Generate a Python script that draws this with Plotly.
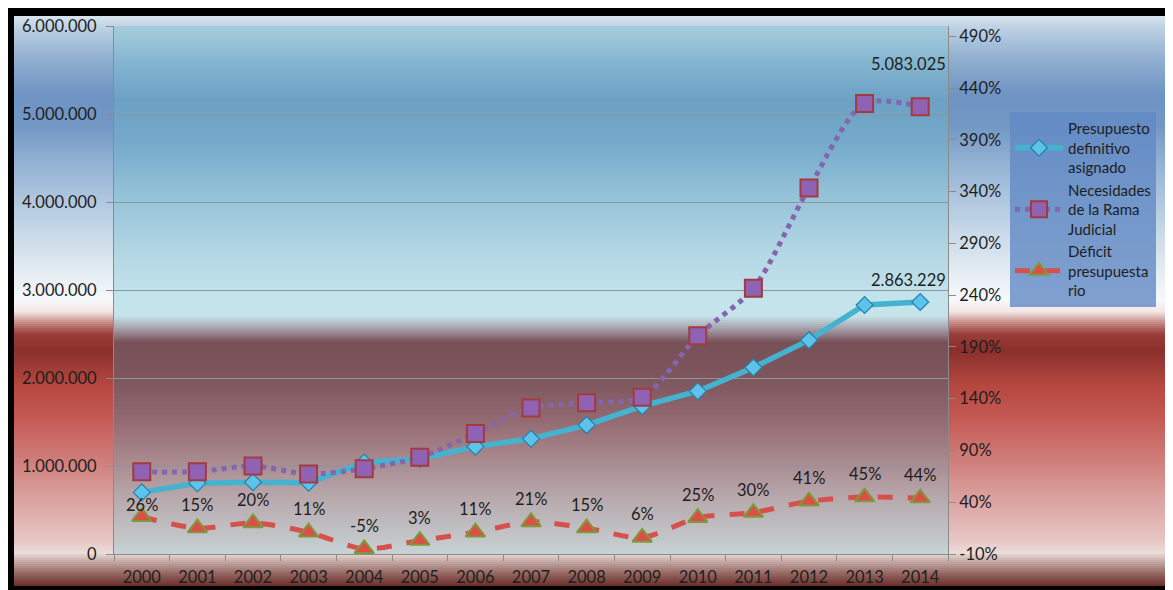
import numpy as np
import plotly.graph_objects as go

# ---------------- data ----------------
years = [str(y) for y in range(2000, 2015)]
presupuesto = [700000, 805000, 815000, 810000, 1040000, 1080000, 1220000, 1310000,
               1465000, 1680000, 1850000, 2120000, 2430000, 2830000, 2863229]
necesidades = [935000, 935000, 1000000, 910000, 970000, 1100000, 1370000, 1660000,
               1720000, 1780000, 2480000, 3020000, 4160000, 5120000, 5083025]
deficit = [0.26, 0.15, 0.20, 0.11, -0.05, 0.03, 0.11, 0.21, 0.15, 0.06,
           0.25, 0.30, 0.41, 0.45, 0.44]
deficit_labels = ["26%", "15%", "20%", "11%", "-5%", "3%", "11%", "21%", "15%", "6%",
                  "25%", "30%", "41%", "45%", "44%"]
right_tickvals = [-0.10, 0.40, 0.90, 1.40, 1.90, 2.40, 2.90, 3.40, 3.90, 4.40, 4.90]
right_ticktext = ["-10%", "40%", "90%", "140%", "190%", "240%", "290%", "340%",
                  "390%", "440%", "490%"]
names = ["Presupuesto<br>definitivo<br>asignado",
         "Necesidades<br>de la Rama<br>Judicial",
         "Déficit<br>presupuesta<br>rio"]

# ---------------- geometry (reference pixel coords) ----------------
OFF = 8                      # browser body margin
W, H = 1173, 590
PL, PR, PT, PB = 114, 948, 26, 554   # plot area in pixels
pw, ph = PR - PL, PB - PT


def px2x(px):
    return (px - PL) / pw


def px2y(py):
    return (PB - py) / ph


def hex2rgb(h):
    h = h.lstrip("#")
    return np.array([int(h[i:i + 2], 16) for i in (0, 2, 4)], dtype=float)


def grad_shapes(x0, x1, y0, y1, stops, step=2):
    ys = np.array([s[0] for s in stops], dtype=float)
    cols = np.array([hex2rgb(s[1]) for s in stops])
    shp = []
    y = y0
    while y < y1:
        yc = min(y + step, y1)
        mid = (y + yc) / 2
        c = [np.interp(mid, ys, cols[:, k]) for k in range(3)]
        shp.append(dict(type="rect", xref="paper", yref="paper", layer="below",
                        x0=px2x(x0), x1=px2x(x1), y0=px2y(y), y1=px2y(min(yc + 1, y1)),
                        line=dict(width=0),
                        fillcolor="rgb(%d,%d,%d)" % tuple(int(round(v)) for v in c)))
        y = yc
    return shp


outer_stops = [(16, "#D8E4EE"), (30, "#B9CEE2"), (60, "#8FAED0"), (95, "#6F94C3"),
               (125, "#7297C5"), (165, "#94B3D4"), (215, "#BBCFE3"), (262, "#DDE8F0"),
               (300, "#F7F9FB"), (312, "#F2E6E4"), (322, "#C98E8B"), (334, "#9A3E39"),
               (350, "#8A2F2B"), (385, "#B4473F"), (420, "#C65A55"), (460, "#CF7E7A"),
               (500, "#DBA3A1"), (540, "#E7C6C4"), (553, "#EADCD8"), (563, "#BFA29E"),
               (574, "#92635D"), (586, "#6A2E2A")]
inner_stops = [(26, "#A6CDDD"), (60, "#86B7D1"), (100, "#6CA1C5"), (140, "#74A9C9"),
               (200, "#97C4D9"), (260, "#B6D9E5"), (300, "#C4E4EC"), (316, "#C6E3EA"),
               (328, "#A8A4AF"), (342, "#785158"), (380, "#7D565E"), (420, "#946A71"),
               (460, "#A8898E"), (500, "#B8AAAE"), (540, "#C3C7CA"), (554, "#C8D3D5")]

shapes = []
shapes.append(dict(type="rect", xref="paper", yref="paper", layer="below",
                   x0=px2x(5), x1=px2x(1173), y0=px2y(7), y1=px2y(590),
                   line=dict(width=0), fillcolor="#000000"))
shapes += grad_shapes(14, 1170, 16, 586, outer_stops)
shapes.append(dict(type="rect", xref="paper", yref="paper", layer="below",
                   x0=px2x(1170), x1=px2x(1173), y0=px2y(16), y1=px2y(586),
                   line=dict(width=0), fillcolor="#9A9A9A"))
shapes += grad_shapes(PL, PR, PT, PB, inner_stops)

# ---------------- traces ----------------
txtfont = dict(family="Lato, sans-serif", size=16.5, color="#1E1E1E")
fig = go.Figure()
fig.add_trace(go.Scatter(
    x=years, y=presupuesto, name=names[0], mode="lines+markers",
    line=dict(color="#45B2D0", width=5.5),
    marker=dict(symbol="diamond", size=13, color="#5CC3EA",
                line=dict(color="#2A7FA6", width=1.2)),
))
fig.add_trace(go.Scatter(
    x=years, y=necesidades, name=names[1], mode="lines+markers",
    line=dict(color="#8466AE", width=5, dash="dot", shape="spline", smoothing=0.8),
    marker=dict(symbol="square", size=17, color="#9062B4",
                line=dict(color="#A33B3E", width=2)),
))
fig.add_trace(go.Scatter(
    x=years, y=deficit, name=names[2], mode="lines+markers", yaxis="y2",
    line=dict(color="#D6504C", width=5, dash="dash", shape="spline", smoothing=0.8),
    marker=dict(symbol="triangle-up", size=17, color="#DE4E48",
                line=dict(color="#7D9A3A", width=2)),
))

fmt = lambda v: f"{v:,}".replace(",", ".")
last = len(years) - 1
annotations = [
    dict(x=last, y=presupuesto[last], xref="x", yref="y", text=fmt(presupuesto[last]),
         showarrow=False, xshift=-12, yshift=22, font=txtfont),
    dict(x=last, y=necesidades[last], xref="x", yref="y", text=fmt(necesidades[last]),
         showarrow=False, xshift=-12, yshift=43, font=txtfont),
]
for i, (v, t) in enumerate(zip(deficit, deficit_labels)):
    annotations.append(dict(x=i, y=v, xref="x", yref="y2", text=t, showarrow=False,
                            yshift=12 if i == 0 else 23, font=txtfont))

axis_font = dict(family="Lato, sans-serif", size=16.5, color="#1E1E1E")
fig.update_layout(
    width=W - OFF, height=H - OFF, autosize=False,
    margin=dict(l=PL - OFF, r=W - PR, t=PT - OFF, b=H - PB, pad=0, autoexpand=False),
    paper_bgcolor="white", plot_bgcolor="rgba(0,0,0,0)",
    separators=",.",
    shapes=shapes, annotations=annotations,
    font=dict(family="Lato, sans-serif", size=16, color="#1E1E1E"),
    xaxis=dict(type="category", tickson="boundaries", ticks="outside", ticklen=6,
               tickcolor="#8A8A8A", showline=True, linecolor="#8A8A8A", showgrid=False,
               tickfont=axis_font, range=[-0.5, 14.5], ticklabelstandoff=8,
               automargin=False),
    yaxis=dict(range=[0, 6000000], dtick=1000000, tickformat=",d", ticks="outside",
               ticklen=7, tickcolor="#8A8A8A", showline=True, linecolor="#8A8A8A",
               showgrid=True, gridcolor="#8C979D", gridwidth=1, zeroline=False,
               tickfont=axis_font, ticklabelstandoff=6, automargin=False),
    yaxis2=dict(overlaying="y", side="right", range=[-0.1, 5.0],
                tickvals=right_tickvals, ticktext=right_ticktext, ticks="outside",
                ticklen=7, tickcolor="#8A8A8A", showline=True, linecolor="#8A8A8A",
                showgrid=False, zeroline=False, tickfont=axis_font, automargin=False),
    legend=dict(x=px2x(1010), y=px2y(112), xanchor="left", yanchor="top",
                bgcolor="rgba(98,138,196,0.80)", borderwidth=0,
                font=dict(family="Lato, sans-serif", size=15, color="#1E1E1E"),
                tracegroupgap=0, itemwidth=48),
    showlegend=True,
)

fig.write_html("out.html")
